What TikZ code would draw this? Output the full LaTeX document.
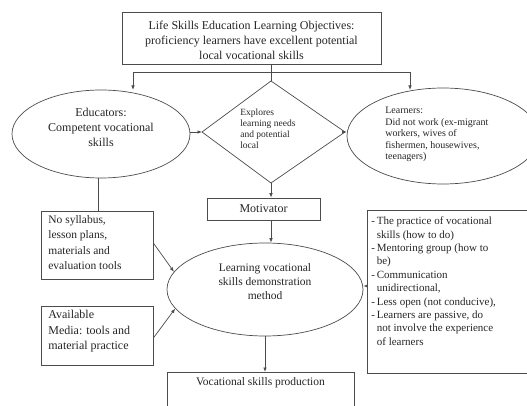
\documentclass[tikz,border=0pt]{standalone}
\usepackage{fontspec}
\setmainfont{Liberation Serif}
\usetikzlibrary{arrows.meta,shapes.geometric,calc}
\begin{document}
\begin{tikzpicture}[x=1pt,y=-1pt,
  line width=0.7pt,
  ln/.style={draw=black!70},
  arr/.style={draw=black!70,-{Latex[length=4.5pt,width=3.5pt]}},
  box/.style={draw=black!70,rectangle,inner sep=0pt},
  ell/.style={draw=black!70,ellipse,inner sep=0pt},
  txt/.style={text=black!85,inner sep=0pt},
]
\useasboundingbox (0,0) rectangle (527,406);
\clip (0,0) rectangle (527,406);
\fill[white] (0,0) rectangle (527,406);

% top box
\node[box,minimum width=259pt,minimum height=52pt] (top) at (251.5,38) {};
\node[txt,align=center,font=\fontsize{12}{15}\selectfont] (toptxt) at (251.5,40)
  {Life Skills Education Learning Objectives:\\proficiency learners have excellent potential\\local vocational skills};

% educators ellipse
\node[ell,minimum width=178pt,minimum height=88pt] (edu) at (101,134) {};
\node[txt,align=center,font=\fontsize{12}{15}\selectfont] (edutxt) at (101,127)
  {Educators:\\Competent vocational\\skills};

% diamond
\coordinate (dt) at (271,81);
\coordinate (dl) at (202,132);
\coordinate (dr) at (345,132);
\coordinate (db) at (271,183);
\draw[ln] (dt) -- (dr) -- (db) -- (dl) -- cycle;
\node[txt,align=left,anchor=north west,font=\fontsize{9.5}{11}\selectfont] (dtxt) at (240,109)
  {Explores\\learning needs\\and potential\\local};

% learners ellipse
\node[ell,minimum width=192pt,minimum height=96pt] (lrn) at (443,136) {};
\node[txt,align=left,anchor=north west,font=\fontsize{10}{11.5}\selectfont] (lrntxt) at (385,107)
  {Learners:\\Did not work (ex-migrant\\workers, wives of\\fishermen, housewives,\\teenagers)};

% motivator
\node[box,minimum width=113pt,minimum height=22pt,font=\fontsize{12}{14}\selectfont,text=black!85] (mot) at (263.5,209) {Motivator};

% central ellipse
\node[ell,minimum width=196pt,minimum height=93pt] (cen) at (265,289.5) {};
\node[txt,align=center,font=\fontsize{11.5}{14}\selectfont] (centxt) at (265,282)
  {Learning vocational\\skills demonstration\\method};

% no syllabus box
\node[box,minimum width=112pt,minimum height=68pt] (syl) at (97,245) {};
\node[txt,align=left,anchor=north west,font=\fontsize{11.5}{15.5}\selectfont] (syltxt) at (48,215)
  {No syllabus,\\lesson plans,\\materials and\\evaluation tools};

% available box
\node[box,minimum width=112pt,minimum height=59pt] (avl) at (97,335.5) {};
\node[txt,align=left,anchor=north west,font=\fontsize{12}{15.5}\selectfont] (avltxt) at (48,310)
  {Available\\Media: tools and\\material practice};

% right box
\node[box,anchor=north west,minimum width=170pt,minimum height=163pt] (rb) at (367,210) {};
\node[txt,align=left,anchor=north west,font=\fontsize{11}{13.4}\selectfont] (rbtxt) at (371,215)
  {\begin{tabular}{@{}l@{\,}l@{}}
   -& The practice of vocational\\
    & skills (how to do)\\
   -& Mentoring group (how to\\
    & be)\\
   -& Communication\\
    & unidirectional,\\
   -& Less open (not conducive),\\
   -& Learners are passive, do\\
    & not involve the experience\\
    & of learners
  \end{tabular}};

% production box
\node[box,anchor=north west,minimum width=187pt,minimum height=50pt] (prod) at (167,372) {};
\node[txt,font=\fontsize{11.5}{14}\selectfont] (prodtxt) at (260.5,383) {Vocational skills production};

% connectors
\coordinate (tj) at (271,72);
\coordinate (jl) at (133,72);
\coordinate (jr) at (410,72);
\draw[ln] (top.south -| dt) -- (dt);
\draw[ln] (jl) -- (jr);
\draw[arr] (jl) -- (jl |- 0,90);
\draw[arr] (jr) -- (jr |- 0,90);
\draw[arr] (edu.east |- dl) -- (dl);
\draw[arr] (dr) -- (dr -| lrn.west);
\draw[arr] (db) -- (db |- mot.north);
\draw[arr] (db |- mot.south) -- (db |- cen.north);
\draw[ln] (edu.south -| 98,0) -- (syl.north -| 98,0);
\draw[arr] (syl.east |- 0,243) -- (cen.169);
\draw[arr] (avl.east |- 0,338) -- (cen.192);
\draw[arr] (rb.west |- 0,286) -- (cen.east |- 0,286);
\draw[arr] (cen.south) -- (cen.south |- prod.north);
\end{tikzpicture}
\end{document}
